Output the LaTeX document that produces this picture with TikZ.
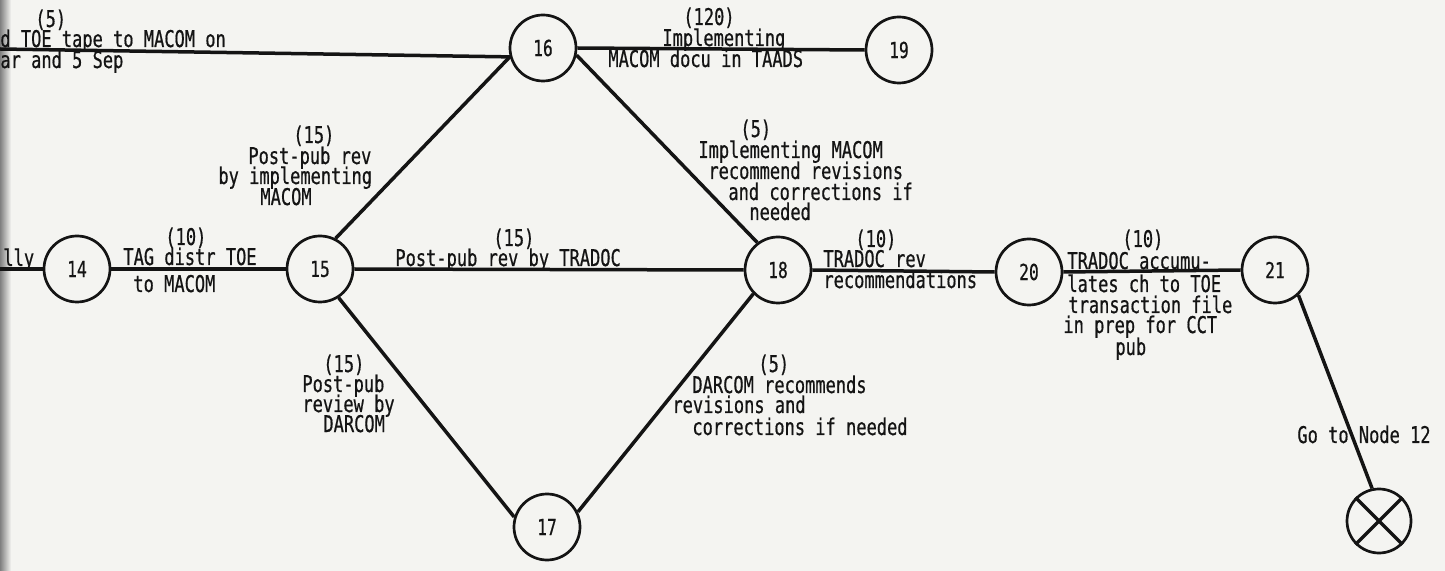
\documentclass[tikz,border=0pt]{standalone}
\usepackage{fontspec}
\newfontfamily\tw[FakeStretch=0.74,FakeBold=0.6]{DejaVu Sans Mono}
\definecolor{bg}{RGB}{244,244,241}
\definecolor{ink}{RGB}{20,20,20}
\newcommand\lab[4]{\node[lbl] (#1) at (#2,#3) {#4};}
\begin{document}
\begin{tikzpicture}[x=0.5pt,y=-0.5pt,
  ev/.style={circle,draw=ink,line width=1.35pt,minimum size=33pt,inner sep=0pt,
    font=\tw\fontsize{11}{11}\selectfont,text=ink},
  conn/.style={draw=ink,line width=1.75pt},
  lbl/.style={anchor=base west,inner sep=0pt,text=ink,text height=7pt,text depth=1.5pt,
    font=\tw\fontsize{11.5}{10.5}\selectfont}]
\useasboundingbox (0,0) rectangle (1445,571);
\fill[bg] (0,0) rectangle (1445,571);
\shade[left color=black!50,right color=bg] (0,0) rectangle (11,571);

% events
\node[ev] (n14) at (77,269) {14};
\node[ev] (n15) at (320,269) {15};
\node[ev] (n16) at (543,48) {16};
\node[ev] (n19) at (899,50) {19};
\node[ev] (n18) at (778,270) {18};
\node[ev] (n20) at (1029,272) {20};
\node[ev] (n21) at (1275,270) {21};
\node[ev] (n17) at (547,527) {17};
\node[ev,minimum size=32pt] (nx) at (1379,521) {};
\coordinate (ltop) at (0,49);
\coordinate (lmid) at (0,269);

% connectors
\draw[conn] (ltop) -- (n16.195);
\draw[conn] (n16.east) -- (n19.west);
\draw[conn] (lmid) -- (n14.west);
\draw[conn] (n14.east) -- (n15.west);
\draw[conn] (n15.63) -- (n16.195);
\draw[conn] (n16.-12) -- (n18.127);
\draw[conn] (n15.east) -- (n18.west);
\draw[conn] (n15.-57) -- (n17.163);
\draw[conn] (n17.26) -- (n18.224);
\draw[conn] (n18.east) -- (n20.west);
\draw[conn] (n20.east) -- (n21.west);
\draw[conn] (n21.-47) -- (nx.102);
\draw[conn] (nx.135) -- (nx.-45);
\draw[conn] (nx.45) -- (nx.-135);

% labels
\lab{a1}{35}{27}{(5)}
\lab{a2}{0}{47}{d TOE tape to MACOM on}
\lab{a3}{0}{68}{ar and 5 Sep}
\lab{a4}{3}{266}{lly}

\lab{b1}{683}{25}{(120)}
\lab{b2}{662}{46}{Implementing}
\lab{b3}{608}{67}{MACOM docu in TAADS}

\lab{c1}{293}{143}{(15)}
\lab{c2}{248}{164}{Post-pub rev}
\lab{c3}{218}{184}{by implementing}
\lab{c4}{260}{205}{MACOM}

\lab{d1}{165}{245}{(10)}
\lab{d2}{123}{265}{TAG distr TOE}
\lab{d3}{133}{292}{to MACOM}

\lab{e1}{493}{246}{(15)}
\lab{e2}{395}{266}{Post-pub rev by TRADOC}

\lab{f1}{740}{137}{(5)}
\lab{f2}{698}{158}{Implementing MACOM}
\lab{f3}{708}{179}{recommend revisions}
\lab{f4}{728}{200}{and corrections if}
\lab{f5}{749}{220}{needed}

\lab{g1}{855}{247}{(10)}
\lab{g2}{823}{267}{TRADOC rev}
\lab{g3}{823}{288}{recommendations}

\lab{h1}{1122}{247}{(10)}
\lab{h2}{1067}{269}{TRADOC accumu-}
\lab{h3}{1067}{292}{lates ch to TOE}
\lab{h4}{1068}{313}{transaction file}
\lab{h5}{1063}{333}{in prep for CCT}
\lab{h6}{1115}{355}{pub}

\lab{i1}{323}{372}{(15)}
\lab{i2}{302}{392}{Post-pub}
\lab{i3}{302}{412}{review by}
\lab{i4}{323}{432}{DARCOM}

\lab{j1}{758}{372}{(5)}
\lab{j2}{692}{393}{DARCOM recommends}
\lab{j3}{672}{413}{revisions and}
\lab{j4}{692}{435}{corrections if needed}

\lab{k1}{1297}{443}{Go to Node 12}
\end{tikzpicture}
\end{document}
